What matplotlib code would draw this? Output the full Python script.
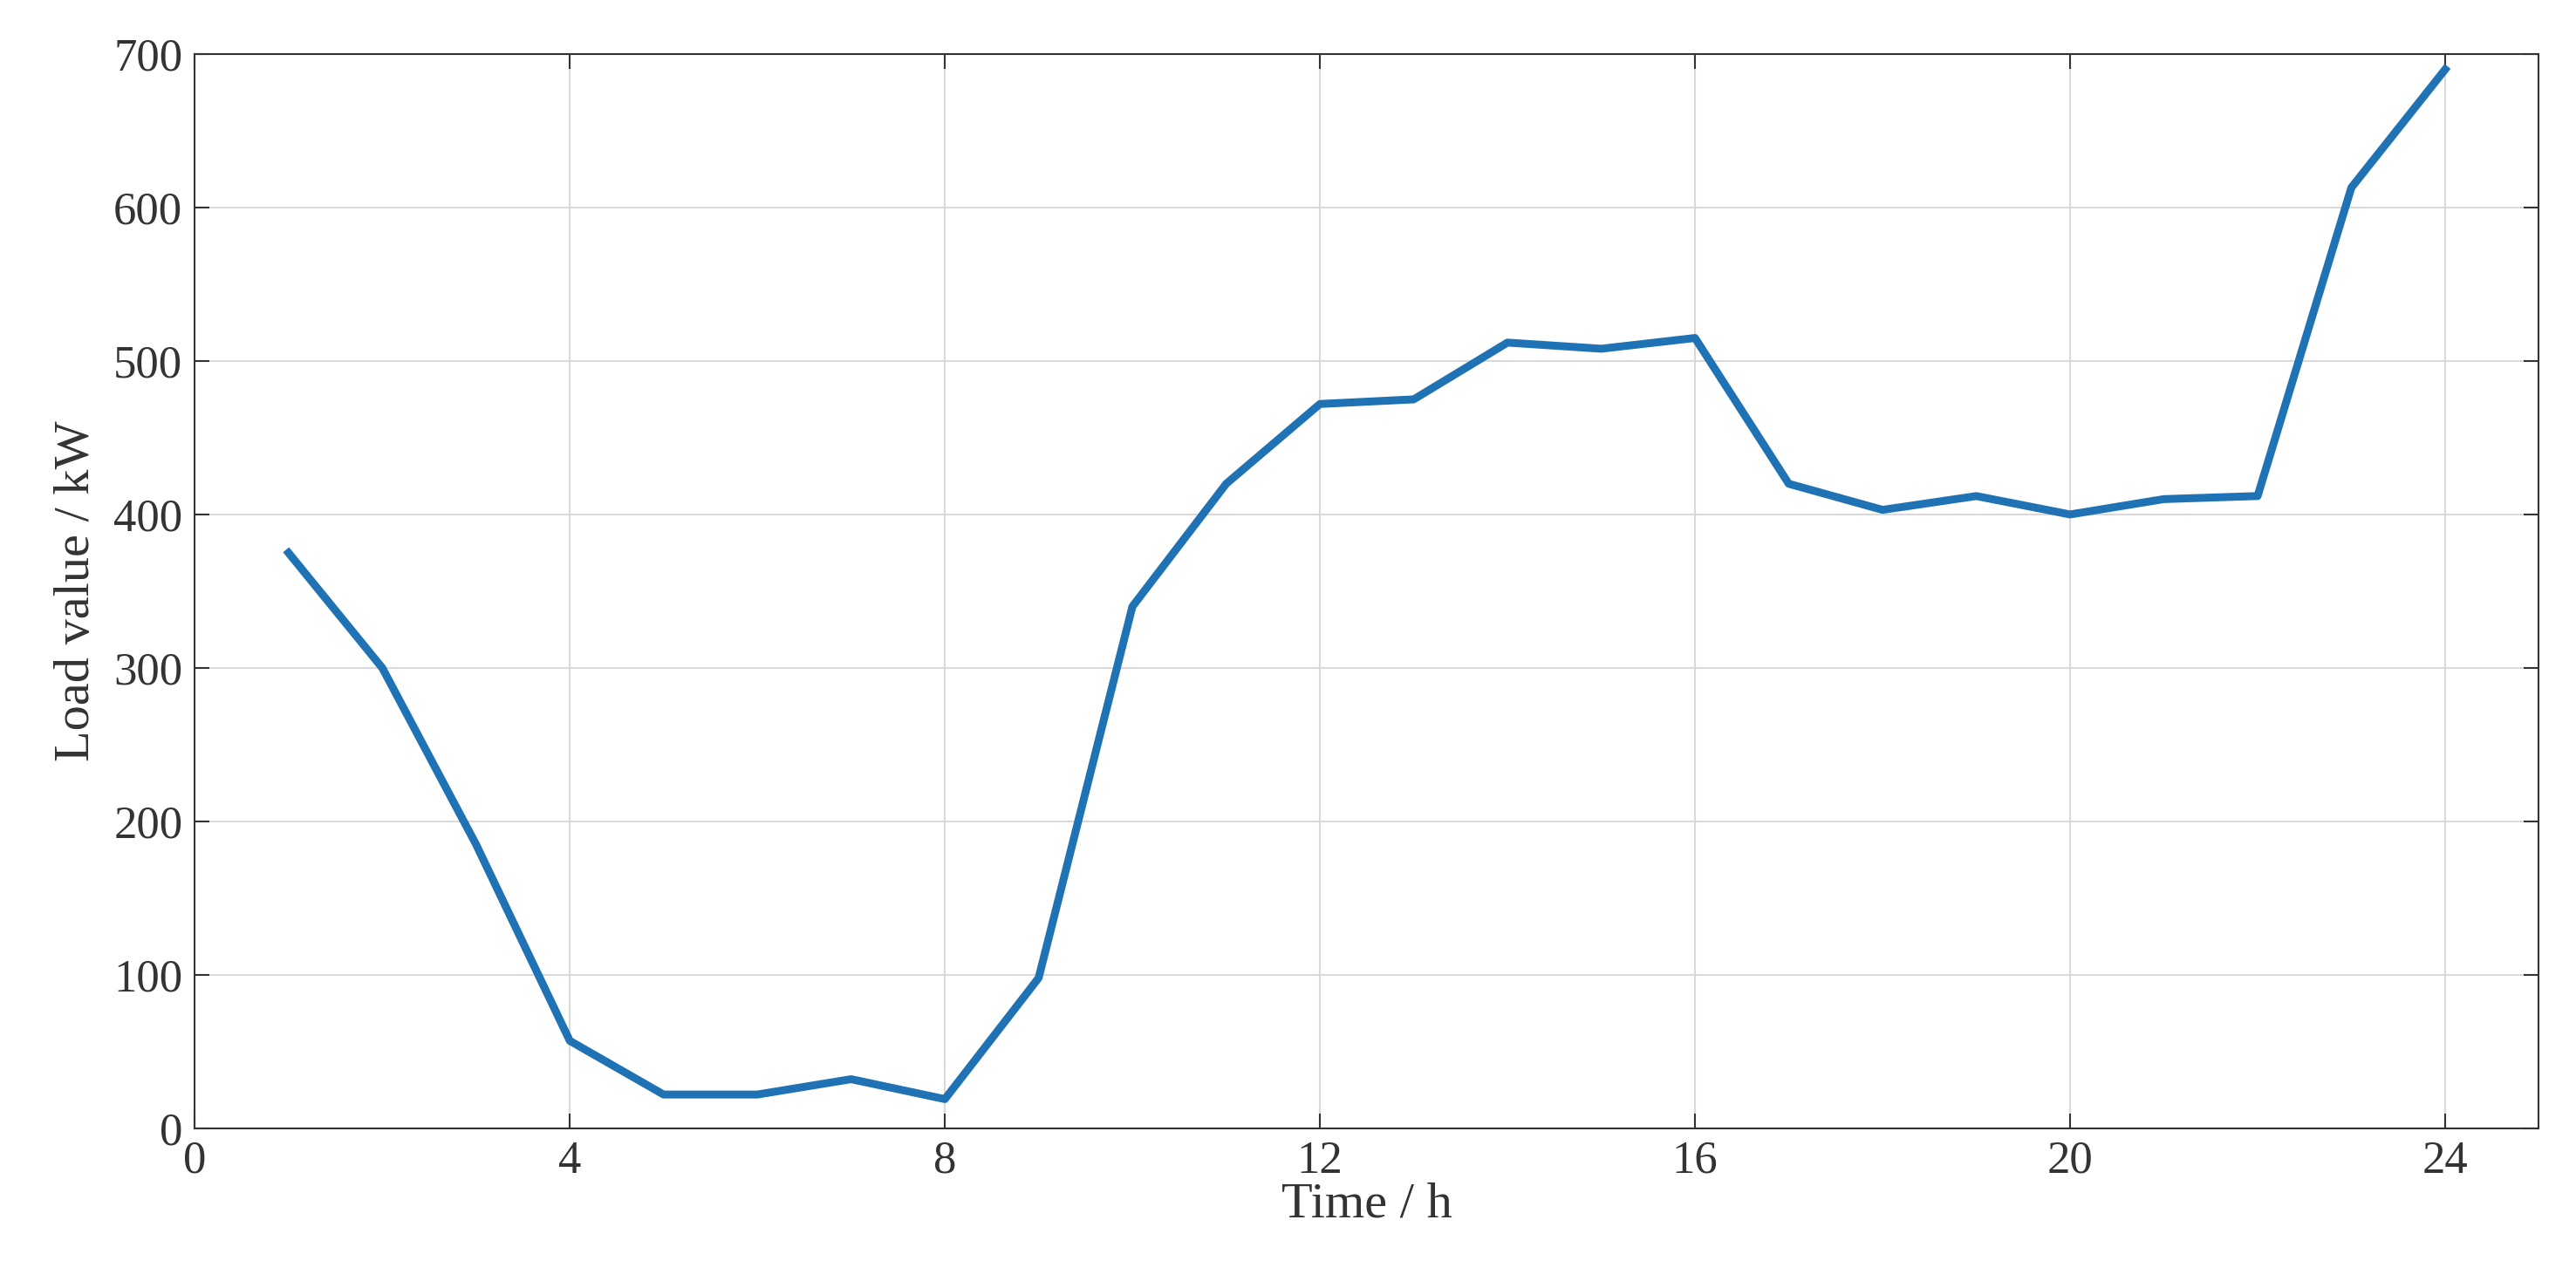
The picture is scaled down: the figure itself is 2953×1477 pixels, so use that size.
import matplotlib
matplotlib.use("Agg")
import matplotlib.pyplot as plt

hours = list(range(1, 25))
load = [375, 300, 185, 57, 22, 22, 32, 19, 98, 340, 420, 472, 475, 512, 508, 515,
        420, 403, 412, 400, 410, 412, 613, 690]
xticks = [0, 4, 8, 12, 16, 20, 24]
yticks = [0, 100, 200, 300, 400, 500, 600, 700]

plt.rcParams['font.family'] = ['Liberation Serif', 'DejaVu Serif']
fig = plt.figure(figsize=(29.53, 14.77), dpi=100)
ax = fig.add_axes([0.0756, 0.124, 0.910, 0.834])
ax.plot(hours, load, color='#1f72b4', linewidth=6.5)
ax.set_xlim(0, 25)
ax.set_ylim(0, 700)
ax.set_xticks(xticks)
ax.set_yticks(yticks)
ax.grid(True, color='#d9d9d9', linewidth=1.5)
ax.tick_params(labelsize=38, direction='in', length=12, width=1.5, colors='#333333',
               top=True, right=True, pad=10)
for s in ax.spines.values():
    s.set_linewidth(1.5)
    s.set_color('#333333')
ax.set_xlabel('Time / h', fontsize=42, color='#333333', labelpad=0)
ax.set_ylabel('Load value / kW', fontsize=42, color='#333333', labelpad=12)
fig.savefig('out.png', dpi=100, facecolor='white')
